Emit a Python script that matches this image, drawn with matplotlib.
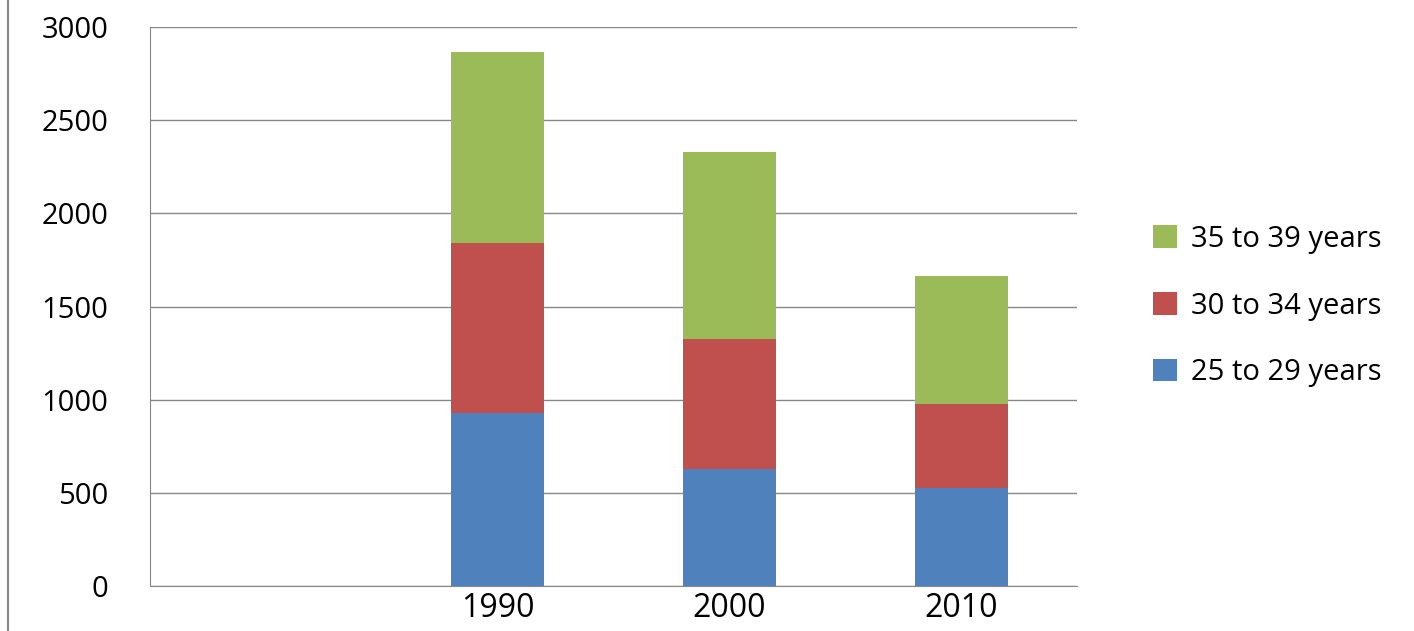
import numpy as np
import matplotlib.pyplot as plt

categories = ["", "1990", "2000", "2010"]
age_25_29 = [0, 928, 628, 526]
age_30_34 = [0, 913, 698, 451]
age_35_39 = [0, 1025, 1003, 687]
labels = ["25 to 29 years", "30 to 34 years", "35 to 39 years"]
colors = ["#4f81bd", "#c0504d", "#9bbb59"]

plt.rcParams['font.family'] = ['Open Sans', 'DejaVu Sans']
fig = plt.figure(figsize=(14.14, 6.31), dpi=100)
ax = fig.add_axes([0.106, 0.071, 0.656, 0.886])

x = np.arange(len(categories))
bottom = np.zeros(len(categories))
handles = []
for vals, lab, c in zip([age_25_29, age_30_34, age_35_39], labels, colors):
    h = ax.bar(x, vals, 0.4, bottom=bottom, color=c, label=lab, zorder=3)
    handles.append(h)
    bottom += np.array(vals)

ax.set_xlim(-0.5, 3.5)
ax.set_ylim(0, 3000)
ax.set_yticks(range(0, 3001, 500))
ax.set_xticks(x)
ax.set_xticklabels(categories, fontsize=23)
ax.tick_params(axis='y', labelsize=21, length=0, pad=30)
ax.tick_params(axis='x', length=0, pad=4)
ax.grid(axis='y', color='#888888', linewidth=1, zorder=0)
for s in ['top', 'right']:
    ax.spines[s].set_visible(False)
ax.spines['left'].set_color('#888888')
ax.spines['bottom'].set_color('#888888')

fig.legend(handles[::-1], labels[::-1], loc='center left',
           bbox_to_anchor=(0.797, 0.515), frameon=False, fontsize=21,
           handlelength=0.8, handleheight=0.8, labelspacing=1.3, handletextpad=0.5)

fig.add_artist(plt.Line2D([0.006, 0.006], [0, 1], color='#888888', linewidth=1.5))
fig.savefig("out.png", dpi=100)
